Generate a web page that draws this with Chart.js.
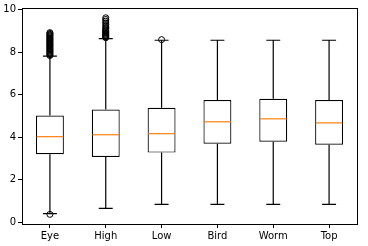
<!DOCTYPE html>
<html>
<head>
<meta charset="utf-8">
<script src="https://cdn.jsdelivr.net/npm/chart.js@4"></script>
<style>
  html, body { margin: 0; padding: 0; background: #fff; }
  #wrap { width: 368px; height: 246px; }
</style>
</head>
<body>
<div id="wrap"><canvas id="grafico"></canvas></div>
<script>
const labels = ['Eye', 'High', 'Low', 'Bird', 'Worm', 'Top'];
const q1 = [3.19, 3.06, 3.27, 3.69, 3.78, 3.64];
const q3 = [5.02, 5.30, 5.38, 5.75, 5.80, 5.75];
const medians = [4.02, 4.11, 4.16, 4.72, 4.86, 4.67];
const whiskLow = [0.39, 0.64, 0.83, 0.83, 0.83, 0.83];
const whiskHigh = [7.81, 8.64, 8.56, 8.56, 8.56, 8.56];
const outEye = [0.36, 7.84, 7.88, 7.92, 7.96, 8.00, 8.04, 8.08, 8.12, 8.16, 8.20, 8.24, 8.28, 8.32,
    8.36, 8.40, 8.44, 8.48, 8.52, 8.56, 8.60, 8.64, 8.68, 8.72, 8.76, 8.80, 8.84, 8.88, 8.92];
const outHigh = [8.68, 8.72, 8.76, 8.80, 8.84, 8.88, 8.92, 8.96, 9.00, 9.05, 9.10, 9.16, 9.22,
    9.30, 9.38, 9.46, 9.54, 9.62];
const outLow = [8.59];
const yTicks = [0, 2, 4, 6, 8, 10];

const outliers = [];
outEye.forEach(v => outliers.push({ x: 'Eye', y: v }));
outHigh.forEach(v => outliers.push({ x: 'High', y: v }));
outLow.forEach(v => outliers.push({ x: 'Low', y: v }));

// ancho de la caja, tomado de la barra flotante
const boxWidth = (chart) => chart.getDatasetMeta(1).data[0].width;

// whiskers, caps, medians and the frame, all placed through the chart scales
const boxExtras = {
    id: 'boxExtras',
    beforeDatasetsDraw(chart) {
        const { ctx, scales: { x, y } } = chart;
        const half = boxWidth(chart) / 4;
        ctx.save();
        ctx.strokeStyle = '#000';
        ctx.lineWidth = 1.2;
        labels.forEach((lab, i) => {
            const cx = x.getPixelForValue(i);
            ctx.beginPath();
            ctx.moveTo(cx, y.getPixelForValue(q3[i]));
            ctx.lineTo(cx, y.getPixelForValue(whiskHigh[i]));
            ctx.moveTo(cx, y.getPixelForValue(q1[i]));
            ctx.lineTo(cx, y.getPixelForValue(whiskLow[i]));
            ctx.moveTo(cx - half, y.getPixelForValue(whiskHigh[i]));
            ctx.lineTo(cx + half, y.getPixelForValue(whiskHigh[i]));
            ctx.moveTo(cx - half, y.getPixelForValue(whiskLow[i]));
            ctx.lineTo(cx + half, y.getPixelForValue(whiskLow[i]));
            ctx.stroke();
        });
        ctx.restore();
    },
    afterDatasetsDraw(chart) {
        const { ctx, chartArea, scales: { x, y } } = chart;
        const w = boxWidth(chart);
        ctx.save();
        ctx.strokeStyle = '#ff7f0e';
        ctx.lineWidth = 1.2;
        labels.forEach((lab, i) => {
            const cx = x.getPixelForValue(i);
            const py = y.getPixelForValue(medians[i]);
            ctx.beginPath();
            ctx.moveTo(cx - w / 2 + 0.6, py);
            ctx.lineTo(cx + w / 2 - 0.6, py);
            ctx.stroke();
        });
        ctx.strokeStyle = '#000';
        ctx.lineWidth = 1;
        ctx.strokeRect(chartArea.left + 0.5, chartArea.top + 0.5,
            chartArea.right - chartArea.left, chartArea.bottom - chartArea.top);
        ctx.restore();
    }
};

new Chart(document.getElementById('grafico'), {
    type: 'bar',
    data: {
        labels: labels,
        datasets: [
            {
                type: 'line',
                data: outliers,
                showLine: false,
                pointStyle: 'circle',
                pointRadius: 3,
                pointBorderWidth: 1,
                pointBorderColor: '#000',
                pointBackgroundColor: 'rgba(0,0,0,0)',
                order: 0
            },
            {
                data: labels.map((l, i) => [q1[i], q3[i]]),
                backgroundColor: '#fff',
                borderColor: '#000',
                borderWidth: 1.2,
                borderSkipped: false,
                barPercentage: 0.5,
                categoryPercentage: 1,
                order: 1
            }
        ]
    },
    options: {
        responsive: true,
        maintainAspectRatio: false,
        animation: false,
        layout: { padding: { top: 7, right: 11, left: 0, bottom: 0 } },
        plugins: { legend: { display: false }, tooltip: { enabled: false } },
        scales: {
            x: {
                offset: true,
                grid: { display: true, drawOnChartArea: false, tickLength: 4, tickColor: '#000', offset: false },
                border: { display: false },
                ticks: { color: '#000', padding: 2, font: { family: 'DejaVu Sans', size: 10 } },
                afterFit(s) { s.height = 22; }
            },
            y: {
                min: -0.094,
                max: 10.08,
                grid: { display: true, drawOnChartArea: false, tickLength: 4, tickColor: '#000' },
                border: { display: false },
                ticks: { color: '#000', padding: 2, font: { family: 'DejaVu Sans', size: 10 } },
                afterBuildTicks(s) { s.ticks = yTicks.map(v => ({ value: v })); },
                afterFit(s) { s.width = 22; }
            }
        }
    },
    plugins: [boxExtras]
});
</script>
</body>
</html>
